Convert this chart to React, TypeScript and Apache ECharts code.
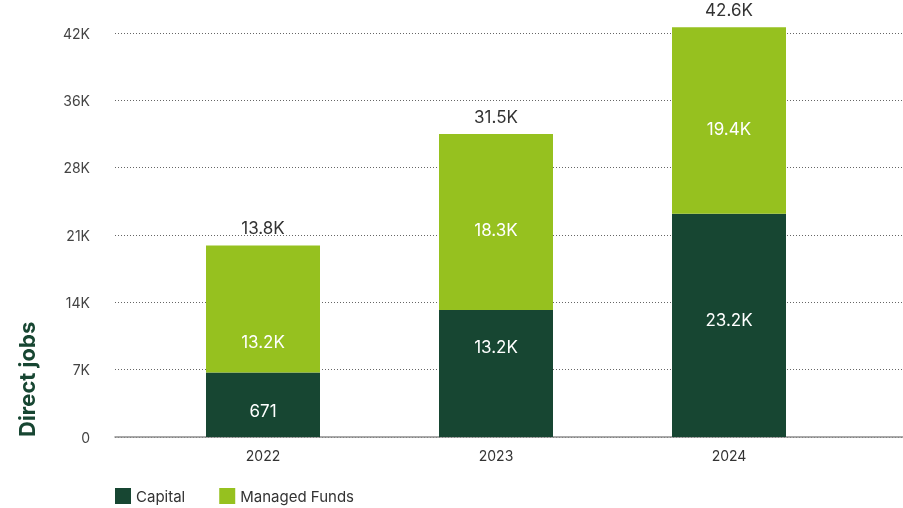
import React, { useEffect, useRef } from "react";
import * as echarts from "echarts";

const years = ["2022", "2023", "2024"];
const capital = [6710, 13200, 23200];
const managedFunds = [13200, 18300, 19400];
const capitalLabels = ["671", "13.2K", "23.2K"];
const managedLabels = ["13.2K", "18.3K", "19.4K"];
const totalLabels = ["13.8K", "31.5K", "42.6K"];
const yTickLabels = ["0", "7K", "14K", "21K", "28K", "36K", "42K"];

// label vertical nudges (layout only, px)
const capitalNudge = [6, -27, -5];
const managedNudge = [33, 8, 8];

const DARK = "#174632";
const LIGHT = "#96c11f";
const FONT = "Inter, 'Open Sans', sans-serif";

export default function App() {
  const ref = useRef<HTMLDivElement>(null);
  useEffect(() => {
    if (!ref.current) return;
    const chart = echarts.init(ref.current, undefined, { renderer: "svg" });
    const bottomY = 437;
    const pxPerUnit = 404 / 42000;
    const barMax = 45000;
    const barHeight = barMax * pxPerUnit;
    chart.setOption({
      animation: false,
      textStyle: { fontFamily: FONT },
      grid: [
        { left: 115, right: 0, top: 33, height: 404 },
        { left: 146.5, right: 57.5, top: bottomY - barHeight, height: barHeight },
      ],
      xAxis: [
        {
          type: "value",
          gridIndex: 0,
          min: 0,
          max: 1,
          axisLine: { show: true, lineStyle: { color: "#8c8c8c", width: 1.5 } },
          axisTick: { show: false },
          axisLabel: { show: false },
          splitLine: { show: false },
        },
        {
          type: "category",
          gridIndex: 1,
          data: years,
          axisLine: { show: false },
          axisTick: { show: false },
          axisLabel: { color: "#333", fontSize: 14, margin: 11, fontFamily: FONT },
        },
      ],
      yAxis: [
        {
          type: "value",
          gridIndex: 0,
          min: 0,
          max: 42000,
          interval: 7000,
          axisLine: { show: false },
          axisTick: { show: false },
          axisLabel: {
            color: "#444",
            fontSize: 14,
            margin: 25,
            fontFamily: FONT,
            formatter: (v: number) => yTickLabels[Math.round(v / 7000)] ?? "",
          },
          splitLine: { show: true, lineStyle: { color: "#666", type: [1, 2], width: 1 } },
        },
        {
          type: "value",
          gridIndex: 1,
          min: 0,
          max: barMax,
          show: false,
          splitLine: { show: false },
        },
      ],
      legend: {
        left: 110,
        top: 483,
        itemWidth: 16,
        itemHeight: 16,
        itemGap: 34,
        icon: "rect",
        data: ["Capital", "Managed Funds"],
        textStyle: { color: "#333", fontSize: 15, fontFamily: FONT },
      },
      graphic: [
        {
          type: "text",
          x: 27,
          y: 437,
          rotation: Math.PI / 2,
          style: {
            text: "Direct jobs",
            fill: DARK,
            fontSize: 22,
            fontWeight: "bold",
            fontFamily: FONT,
            textAlign: "left",
            textVerticalAlign: "middle",
          },
        },
      ],
      series: [
        {
          name: "Capital",
          type: "bar",
          stack: "total",
          xAxisIndex: 1,
          yAxisIndex: 1,
          barWidth: 114,
          itemStyle: { color: DARK },
          data: capital.map((v, i) => ({ value: v, label: { offset: [0, capitalNudge[i]] } })),
          label: {
            show: true,
            position: "inside",
            color: "#fff",
            fontSize: 17,
            fontFamily: FONT,
            formatter: (p: any) => capitalLabels[p.dataIndex],
          },
        },
        {
          name: "Managed Funds",
          type: "bar",
          stack: "total",
          xAxisIndex: 1,
          yAxisIndex: 1,
          barWidth: 114,
          itemStyle: { color: LIGHT },
          data: managedFunds.map((v, i) => ({ value: v, label: { offset: [0, managedNudge[i]] } })),
          label: {
            show: true,
            position: "inside",
            color: "#fff",
            fontSize: 17,
            fontFamily: FONT,
            formatter: (p: any) => managedLabels[p.dataIndex],
          },
        },
        {
          name: "Total",
          type: "bar",
          stack: "total",
          xAxisIndex: 1,
          yAxisIndex: 1,
          barWidth: 114,
          itemStyle: { color: "transparent" },
          data: years.map(() => 0),
          label: {
            show: true,
            position: "top",
            distance: 9,
            color: "#333",
            fontSize: 17,
            fontFamily: FONT,
            formatter: (p: any) => totalLabels[p.dataIndex],
          },
        },
      ],
    });
    return () => chart.dispose();
  }, []);
  return (
    <div
      ref={ref}
      style={{ position: "fixed", left: 0, top: 0, width: 903, height: 508 }}
    />
  );
}
